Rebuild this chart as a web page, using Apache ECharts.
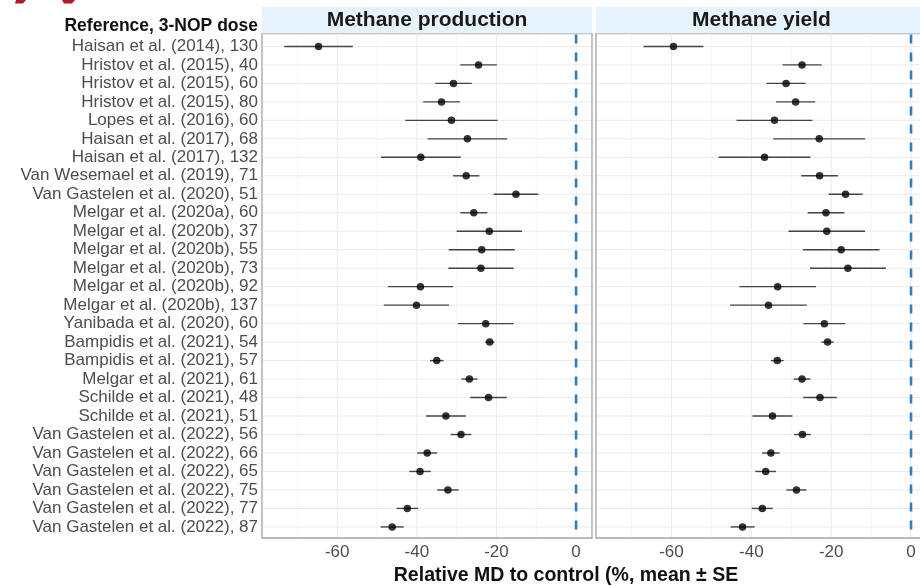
<!DOCTYPE html>
<html>
<head>
<meta charset="utf-8">
<title>3-NOP methane forest plot</title>
<script src="https://cdn.jsdelivr.net/npm/echarts@6/dist/echarts.min.js"></script>
<style>
  html, body { margin: 0; padding: 0; background: #ffffff; }
  #chart { width: 920px; height: 586px; }
</style>
</head>
<body>
<div id="chart"></div>
<script>
// Studies (reference, 3-NOP dose in mg/kg DM), top to bottom
const studies = [
  'Haisan et al. (2014), 130',
  'Hristov et al. (2015), 40',
  'Hristov et al. (2015), 60',
  'Hristov et al. (2015), 80',
  'Lopes et al. (2016), 60',
  'Haisan et al. (2017), 68',
  'Haisan et al. (2017), 132',
  'Van Wesemael et al. (2019), 71',
  'Van Gastelen et al. (2020), 51',
  'Melgar et al. (2020a), 60',
  'Melgar et al. (2020b), 37',
  'Melgar et al. (2020b), 55',
  'Melgar et al. (2020b), 73',
  'Melgar et al. (2020b), 92',
  'Melgar et al. (2020b), 137',
  'Yanibada et al. (2020), 60',
  'Bampidis et al. (2021), 54',
  'Bampidis et al. (2021), 57',
  'Melgar et al. (2021), 61',
  'Schilde et al. (2021), 48',
  'Schilde et al. (2021), 51',
  'Van Gastelen et al. (2022), 56',
  'Van Gastelen et al. (2022), 66',
  'Van Gastelen et al. (2022), 65',
  'Van Gastelen et al. (2022), 75',
  'Van Gastelen et al. (2022), 77',
  'Van Gastelen et al. (2022), 87'
];

// Methane production: relative mean difference to control (%) and SE
const productionMean = [
  -64.7, -24.5, -30.8, -33.8, -31.3, -27.3, -39.0, -27.6, -15.1,
  -25.7, -21.8, -23.7, -23.9, -39.1, -40.1, -22.7, -21.7, -35.0,
  -26.8, -22.0, -32.7, -28.9, -37.4, -39.2, -32.2, -42.4, -46.2
];
const productionSE = [
  8.6, 4.6, 4.6, 4.6, 11.6, 10.0, 10.0, 3.3, 5.6,
  3.4, 8.2, 8.3, 8.2, 8.2, 8.2, 7.0, 1.2, 1.7,
  2.0, 4.6, 5.0, 2.6, 2.5, 2.7, 2.7, 2.7, 2.9
];

// Methane yield: relative mean difference to control (%) and SE
const yieldMean = [
  -59.5, -27.3, -31.3, -28.9, -34.2, -23.0, -36.7, -22.9, -16.4,
  -21.3, -21.1, -17.5, -15.8, -33.4, -35.7, -21.7, -20.9, -33.5,
  -27.3, -22.8, -34.7, -27.2, -35.1, -36.4, -28.7, -37.25, -42.2
];
const yieldSE = [
  7.5, 4.9, 4.9, 4.9, 9.5, 11.5, 11.5, 4.6, 4.25,
  4.6, 9.6, 9.6, 9.5, 9.6, 9.6, 5.25, 1.55, 1.6,
  2.1, 4.2, 5.0, 2.1, 2.2, 2.6, 2.5, 2.65, 3.0
];

const panelTitles = ['Methane production', 'Methane yield'];
const xTickValues = [-60, -40, -20, 0];
const xMinorValues = [-70, -50, -30, -10];
const xRange = [-78.9, 4.0];

const FONT = '"Liberation Sans", Arial, Helvetica, sans-serif';
const panels = [
  { mean: productionMean, se: productionSE },
  { mean: yieldMean, se: yieldSE }
];
const rowIndex = studies.map((_, k) => k);

// Full-span reference lines (grid lines and the zero line) drawn per panel
function vLineSeries(gi, values, style, z) {
  return {
    type: 'custom', xAxisIndex: gi, yAxisIndex: gi, z: z, silent: true,
    data: values.map(v => [v, 0]),
    renderItem: function (params, api) {
      const cs = params.coordSys;
      const x = api.coord([api.value(0), 0])[0];
      return { type: 'line', shape: { x1: x, y1: cs.y + 1, x2: x, y2: cs.y + cs.height - 1 }, style: style };
    }
  };
}
function hLineSeries(gi, rows, style, z) {
  return {
    type: 'custom', xAxisIndex: gi, yAxisIndex: gi, z: z, silent: true,
    data: rows.map(k => [0, k]),
    renderItem: function (params, api) {
      const cs = params.coordSys;
      const y = api.coord([0, api.value(1)])[1];
      return { type: 'line', shape: { x1: cs.x + 1, y1: y, x2: cs.x + cs.width - 1, y2: y }, style: style };
    }
  };
}

const series = [];
panels.forEach((p, gi) => {
  series.push(vLineSeries(gi, xMinorValues, { stroke: '#f4f4f4', lineWidth: 0.8 }, 1));
  series.push(vLineSeries(gi, xTickValues, { stroke: '#ebebeb', lineWidth: 1 }, 1));
  series.push(hLineSeries(gi, rowIndex, { stroke: '#ebebeb', lineWidth: 1 }, 1));
  series.push(vLineSeries(gi, [0], { stroke: '#2f7fc0', lineWidth: 2.6, lineDash: [9, 9] }, 3));
  // error bars: mean ± SE
  series.push({
    type: 'custom', xAxisIndex: gi, yAxisIndex: gi, z: 4, silent: true,
    data: rowIndex.map(k => [p.mean[k] - p.se[k], p.mean[k] + p.se[k], k]),
    encode: { x: [0, 1], y: 2 },
    renderItem: function (params, api) {
      const lo = api.coord([api.value(0), api.value(2)]);
      const hi = api.coord([api.value(1), api.value(2)]);
      return { type: 'line', shape: { x1: lo[0], y1: lo[1], x2: hi[0], y2: hi[1] }, style: { stroke: '#444444', lineWidth: 1.4 } };
    }
  });
  // means
  series.push({
    type: 'scatter', xAxisIndex: gi, yAxisIndex: gi, z: 5, silent: true,
    symbol: 'circle', symbolSize: 7.5,
    itemStyle: { color: '#000000' },
    data: rowIndex.map(k => [p.mean[k], k])
  });
});

const grids = [
  { left: 262, top: 33.5, width: 330, height: 504.5 },
  { left: 596, top: 33.5, width: 331, height: 504.5 }
].map(g => Object.assign(g, {
  show: true, borderColor: '#a3a3a3', borderWidth: 1.3, backgroundColor: '#ffffff',
  containLabel: false, outerBoundsMode: 'none'
}));

const xAxes = grids.map((g, gi) => ({
  type: 'value', gridIndex: gi, min: xRange[0], max: xRange[1],
  axisLine: { show: false }, axisTick: { show: false }, splitLine: { show: false },
  axisLabel: {
    customValues: xTickValues, color: '#4d4d4d', fontSize: 17, fontFamily: FONT, margin: 6,
    formatter: v => String(v)
  }
}));

const yAxes = grids.map((g, gi) => ({
  type: 'value', gridIndex: gi, min: -0.7, max: 26.6, inverse: true,
  axisLine: { show: false }, axisTick: { show: false }, splitLine: { show: false },
  axisLabel: gi === 0 ? {
    customValues: rowIndex, color: '#4d4d4d', fontSize: 17, fontFamily: FONT, margin: 4,
    formatter: v => studies[Math.round(v)]
  } : { show: false }
}));

const stripGraphics = [];
grids.forEach((g, gi) => {
  stripGraphics.push({
    type: 'rect', shape: { x: g.left, y: 7, width: g.width, height: 26.5 },
    style: { fill: '#e6f3fc' }, silent: true, z: 0
  });
  stripGraphics.push({
    type: 'text', x: g.left + g.width / 2, y: 20.5, silent: true, z: 1,
    style: {
      text: panelTitles[gi], fill: '#1a1a1a', font: 'bold 21px ' + FONT,
      align: 'center', verticalAlign: 'middle'
    }
  });
});

const option = {
  backgroundColor: '#ffffff',
  animation: false,
  grid: grids,
  xAxis: xAxes,
  yAxis: yAxes,
  series: series,
  graphic: stripGraphics.concat([
    {
      type: 'text', x: 258, y: 26.5, silent: true,
      style: { text: 'Reference, 3-NOP dose', fill: '#111111', font: 'bold 17.5px ' + FONT, align: 'right', verticalAlign: 'middle' }
    },
    {
      type: 'text', x: 566, y: 576, silent: true,
      style: { text: 'Relative MD to control (%, mean ± SE', fill: '#111111', font: 'bold 19.5px ' + FONT, align: 'center', verticalAlign: 'middle' }
    },
    // fragments of the red logo at the top-left corner
    { type: 'polygon', silent: true, shape: { points: [[16, 0], [26, 0], [23, 3.5], [15, 3.5]] }, style: { fill: '#b4152f' } },
    { type: 'polygon', silent: true, shape: { points: [[62, 0], [75, 0], [72, 3.5], [64, 3.5]] }, style: { fill: '#b4152f' } }
  ])
};

const chart = echarts.init(document.getElementById('chart'), null, { renderer: 'canvas' });
chart.setOption(option);
</script>
</body>
</html>
